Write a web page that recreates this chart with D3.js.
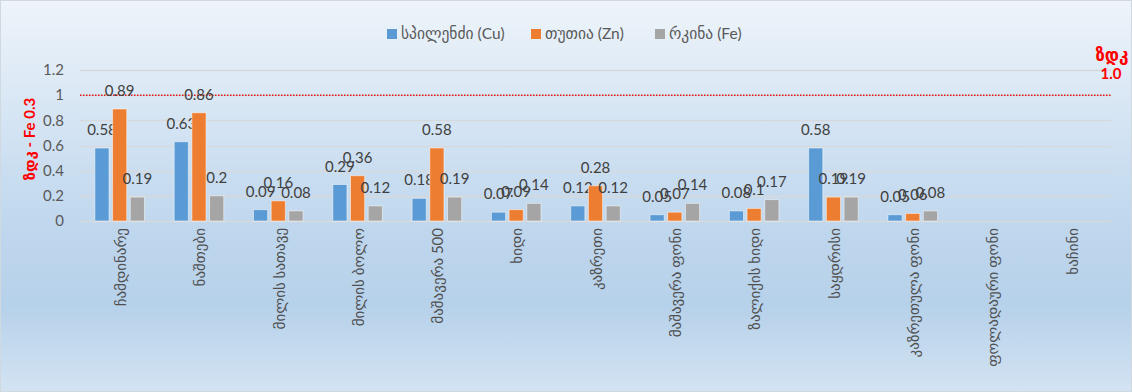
<!DOCTYPE html>
<html>
<head>
<meta charset="utf-8">
<script src="https://cdn.jsdelivr.net/npm/d3@7"></script>
<style>
  html, body { margin: 0; padding: 0; background: #fff; }
  svg { display: block; }
  text { font-family: Lato, "DejaVu Sans", sans-serif; }
</style>
</head>
<body>
<svg id="chart" width="1132" height="392"></svg>
<script>
const categories = [
  "ჩამდინარე", "ნაშთები", "მილის სათავე", "მილის ბოლო", "მაშავერა 500",
  "ხიდი", "კაზრეთი", "მაშავერა ფონი", "ზალიქის ხიდი", "საყდრისი",
  "კაზრეთულა ფონი", "ფოლადაური ფონი", "ხაჩინი"
];
const seriesNames = ["სპილენძი (Cu)", "თუთია (Zn)", "რკინა (Fe)"];
const cuValues = [0.58, 0.63, 0.09, 0.29, 0.18, 0.07, 0.12, 0.05, 0.08, 0.58, 0.05, null, null];
const znValues = [0.89, 0.86, 0.16, 0.36, 0.58, 0.09, 0.28, 0.07, 0.1, 0.19, 0.06, null, null];
const feValues = [0.19, 0.2, 0.08, 0.12, 0.19, 0.14, 0.12, 0.14, 0.17, 0.19, 0.08, null, null];
const yTicks = [0, 0.2, 0.4, 0.6, 0.8, 1, 1.2];
const limitValue = 1.0;
const yTitle = "ზდკ - Fe 0.3";
const limitLabel = ["ზდკ", "1.0"];

const colors = ["#5b9bd5", "#ed7d31", "#a5a5a5"];
const series = [cuValues, znValues, feValues];

const W = 1132, H = 392;
const svg = d3.select("#chart");

// background gradient
const defs = svg.append("defs");
const grad = defs.append("linearGradient").attr("id", "bg").attr("x1", 0).attr("y1", 0).attr("x2", 0).attr("y2", 1);
[[0, "#eef4fa"], [0.55, "#c1d8ee"], [0.78, "#b6d1ea"], [1, "#d3e3f2"]].forEach(s =>
  grad.append("stop").attr("offset", s[0]).attr("stop-color", s[1]));
svg.append("rect").attr("x", 0.5).attr("y", 0.5).attr("width", W - 1).attr("height", H - 1)
  .attr("fill", "url(#bg)").attr("stroke", "#d0d8e0");

const x0 = d3.scaleBand().domain(categories).range([80, 1111]).paddingInner(0).paddingOuter(0);
const groupW = x0.bandwidth() * 0.625;
const x1 = d3.scaleBand().domain(d3.range(3)).range([0, groupW]).paddingInner(0.2).paddingOuter(0);
const y = d3.scaleLinear().domain([0, 1.2]).range([221, 70]);

// grid
svg.append("g").selectAll("line").data(yTicks).join("line")
  .attr("x1", 80).attr("x2", 1111)
  .attr("y1", d => Math.round(y(d)) + 0.5).attr("y2", d => Math.round(y(d)) + 0.5)
  .attr("stroke", "#d6d9dc").attr("stroke-width", 1.3);

// y axis labels
const yAxis = d3.axisLeft(y).tickValues(yTicks).tickSize(0).tickPadding(0).tickFormat(d3.format("~g"));
const gy = svg.append("g").attr("transform", "translate(64,0)").call(yAxis);
gy.select(".domain").remove();
gy.selectAll("text").attr("font-size", 15).attr("fill", "#595959").attr("font-family", "Lato, 'DejaVu Sans', sans-serif");

// limit line
svg.append("line").attr("x1", 80).attr("x2", 1111)
  .attr("y1", y(limitValue)).attr("y2", y(limitValue))
  .attr("stroke", "#e0161b").attr("stroke-width", 1.5).attr("stroke-dasharray", "1.5,1.5");

// bars
const groups = svg.append("g").selectAll("g").data(categories).join("g")
  .attr("transform", d => `translate(${x0(d) + (x0.bandwidth() - groupW) / 2},0)`);
groups.each(function(cat, ci) {
  const g = d3.select(this);
  series.forEach((vals, si) => {
    const v = vals[ci];
    if (v == null) return;
    g.append("rect")
      .attr("x", x1(si)).attr("width", x1.bandwidth())
      .attr("y", y(v)).attr("height", y(0) - y(v))
      .attr("fill", colors[si]).attr("stroke", "rgba(255,255,255,0.5)").attr("stroke-width", 1);
    g.append("text")
      .attr("x", x1(si) + x1.bandwidth() / 2).attr("y", y(v) - 13)
      .attr("text-anchor", "middle").attr("font-size", 15).attr("fill", "#404040")
      .text(v);
  });
});

// category labels
svg.append("g").selectAll("text").data(categories).join("text")
  .attr("transform", d => `translate(${x0(d) + x0.bandwidth() / 2 + 1},228) rotate(-90)`)
  .attr("text-anchor", "end").attr("dy", "0.35em")
  .attr("font-size", 15).attr("fill", "#505050")
  .text(d => d);

// y title
svg.append("text").attr("transform", "translate(30,139) rotate(-90)")
  .attr("text-anchor", "middle").attr("dy", "0.35em")
  .attr("font-size", 15).attr("font-weight", "bold").attr("fill", "#ff0000")
  .text(yTitle);

// limit label top-right
svg.append("text").attr("x", 1112).attr("y", 61).attr("text-anchor", "middle")
  .attr("font-size", 17).attr("font-weight", "bold").attr("fill", "#ff0000").text(limitLabel[0]);
svg.append("text").attr("x", 1111).attr("y", 79).attr("text-anchor", "middle")
  .attr("font-size", 15).attr("font-weight", "bold").attr("fill", "#ff0000").text(limitLabel[1]);

// legend
const legendItems = [{x: 387}, {x: 531}, {x: 655}];
const lg = svg.append("g");
seriesNames.forEach((name, i) => {
  lg.append("rect").attr("x", legendItems[i].x).attr("y", 29).attr("width", 10).attr("height", 10).attr("fill", colors[i]);
  lg.append("text").attr("x", legendItems[i].x + 14).attr("y", 34).attr("dy", "0.35em")
    .attr("font-size", 15.5).attr("fill", "#595959").text(name);
});
</script>
</body>
</html>
